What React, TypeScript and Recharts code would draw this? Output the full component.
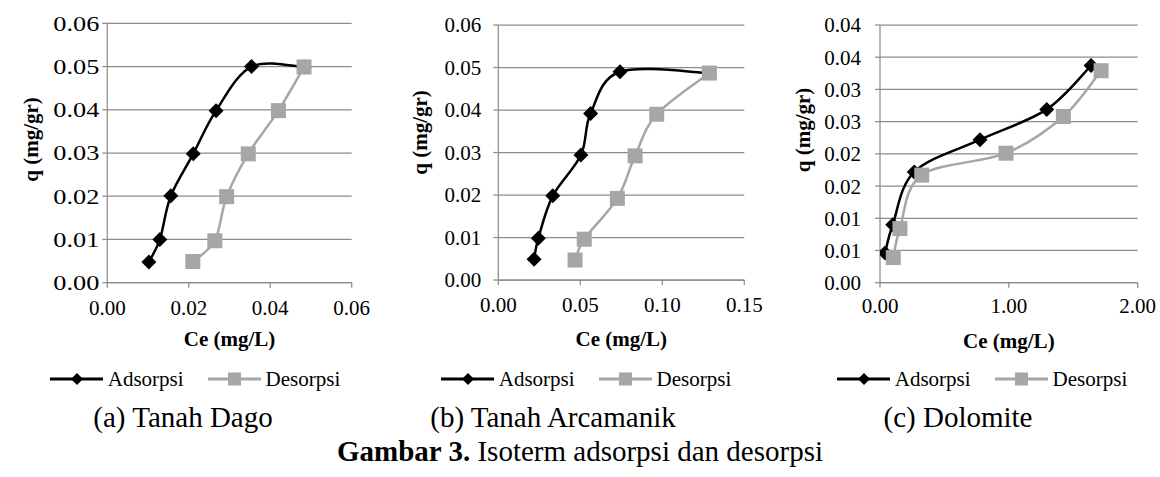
import { LineChart, Line, XAxis, YAxis, CartesianGrid, Legend, Label } from "recharts";

const FONT = '"Liberation Serif", "Times New Roman", serif';
const BLACK = "#000000";
const GRAY = "#a6a6a6";
const GRID = "#8c8c8c";

// (a) Tanah Dago
const dagoAdsCe = [0.0102, 0.0129, 0.0156, 0.0211, 0.0267, 0.0354, 0.0483];
const dagoAdsQ = [0.0048, 0.01, 0.0201, 0.0298, 0.0398, 0.05, 0.0499];
const dagoDesCe = [0.021, 0.0264, 0.0293, 0.0346, 0.042, 0.0483];
const dagoDesQ = [0.0049, 0.0097, 0.0199, 0.0298, 0.0398, 0.0499];

// (b) Tanah Arcamanik
const arcaAdsCe = [0.0218, 0.0244, 0.0332, 0.0504, 0.0563, 0.0742, 0.1287];
const arcaAdsQ = [0.0049, 0.0098, 0.0198, 0.0294, 0.0392, 0.049, 0.0487];
const arcaDesCe = [0.0468, 0.0524, 0.0726, 0.0834, 0.0966, 0.1287];
const arcaDesQ = [0.0047, 0.0096, 0.0192, 0.0292, 0.039, 0.0487];

// (c) Dolomite
const dolAdsCe = [0.039, 0.099, 0.266, 0.776, 1.294, 1.638];
const dolAdsQ = [0.0046, 0.009, 0.0172, 0.0222, 0.0269, 0.0337];
const dolDesCe = [0.103, 0.155, 0.324, 0.978, 1.423, 1.716];
const dolDesQ = [0.0039, 0.0084, 0.0167, 0.0201, 0.0258, 0.0329];

const xTicksA = [0, 0.02, 0.04, 0.06];
const xTicksB = [0, 0.05, 0.1, 0.15];
const xTicksC = [0, 1, 2];
const yTicksAB = [0, 0.01, 0.02, 0.03, 0.04, 0.05, 0.06];
const yTicksC = [0, 0.005, 0.01, 0.015, 0.02, 0.025, 0.03, 0.035, 0.04];
const yLabelsC = ["0.00", "0.01", "0.01", "0.02", "0.02", "0.03", "0.03", "0.04", "0.04"];

const captions = ["(a) Tanah Dago", "(b) Tanah Arcamanik", "(c) Dolomite"];

const zip = (ce: number[], q: number[]) => ce.map((c, i) => ({ ce: c, q: q[i] }));

// Excel-like smoothed line (Catmull-Rom as bezier)
const excelSmooth: any = (context: any) => {
  let pts: number[][] = [];
  return {
    areaStart() {},
    areaEnd() {},
    lineStart() {
      pts = [];
    },
    point(x: number, y: number) {
      pts.push([+x, +y]);
    },
    lineEnd() {
      const n = pts.length;
      if (!n) return;
      context.moveTo(pts[0][0], pts[0][1]);
      for (let i = 0; i < n - 1; i++) {
        const p0 = pts[Math.max(i - 1, 0)];
        const p1 = pts[i];
        const p2 = pts[i + 1];
        const p3 = pts[Math.min(i + 2, n - 1)];
        context.bezierCurveTo(
          p1[0] + (p2[0] - p0[0]) / 6,
          p1[1] + (p2[1] - p0[1]) / 6,
          p2[0] - (p3[0] - p1[0]) / 6,
          p2[1] - (p3[1] - p1[1]) / 6,
          p2[0],
          p2[1]
        );
      }
    },
  };
};

const diamondDot = (p: any) => {
  const r = 7.5;
  return (
    <path
      key={`d${p.index}`}
      d={`M${p.cx},${p.cy - r}L${p.cx + r},${p.cy}L${p.cx},${p.cy + r}L${p.cx - r},${p.cy}Z`}
      fill={BLACK}
    />
  );
};

const squareDot = (p: any) => {
  const s = 15;
  return <rect key={`s${p.index}`} x={p.cx - s / 2} y={p.cy - s / 2} width={s} height={s} fill={GRAY} />;
};

function LegendRow() {
  const item = (name: string, color: string, marker: "diamond" | "square") => (
    <div style={{ display: "flex", alignItems: "center" }}>
      <svg width={53} height={16}>
        <line x1={0} y1={8} x2={53} y2={8} stroke={color} strokeWidth={3} />
        {marker === "diamond" ? (
          <path d="M27,2L33,8L27,14L21,8Z" fill={color} />
        ) : (
          <rect x={20} y={1.5} width={13} height={13} fill={color} />
        )}
      </svg>
      <span style={{ marginLeft: 5 }}>{name}</span>
    </div>
  );
  return (
    <div
      style={{
        display: "flex",
        justifyContent: "center",
        alignItems: "center",
        gap: 24,
        height: 26,
        lineHeight: "26px",
        fontFamily: FONT,
        fontSize: 21,
        color: "#000",
      }}
    >
      {item("Adsorpsi", BLACK, "diamond")}
      {item("Desorpsi", GRAY, "square")}
    </div>
  );
}

type Panel = {
  left: number;
  plotLeft: number;
  plotRight: number;
  plotTop: number;
  plotBottom: number;
  ads: { ce: number; q: number }[];
  des: { ce: number; q: number }[];
  xTicks: number[];
  yTicks: number[];
  yFmt: (v: number, i: number) => string;
  yLabelWidth?: number;
  yTickMargin: number;
  xTickMargin: number;
  yTitleX: number;
  yTitleY: number;
  xTitleDy: number;
  legendCenter: number;
};

const W = 390;
const H = 400;
const XAXIS_H = 80;

function IsothermPanel({ p }: { p: Panel }) {
  const xMax = p.xTicks[p.xTicks.length - 1];
  const yMax = p.yTicks[p.yTicks.length - 1];
  const yTick = (t: any) => (
    <text
      x={t.x}
      y={t.y}
      dy="0.355em"
      textAnchor="end"
      fontFamily={FONT}
      fontSize={21}
      fill="#000"
      textLength={p.yLabelWidth}
      lengthAdjust={p.yLabelWidth ? "spacingAndGlyphs" : undefined}
    >
      {p.yFmt(t.payload.value, t.index)}
    </text>
  );
  return (
    <div style={{ position: "absolute", left: p.left, top: 0, width: W, height: H }}>
      <LineChart
        width={W}
        height={H}
        margin={{ top: p.plotTop, right: W - p.plotRight, left: 0, bottom: H - p.plotBottom - XAXIS_H }}
      >
        <CartesianGrid vertical={false} stroke={GRID} strokeWidth={1.25} />
        <XAxis
          type="number"
          dataKey="ce"
          domain={[0, xMax]}
          ticks={p.xTicks}
          allowDataOverflow
          tickFormatter={(v: number) => v.toFixed(2)}
          stroke={GRID}
          strokeWidth={1.25}
          tickSize={5}
          tickMargin={p.xTickMargin}
          height={XAXIS_H}
          tick={{ fill: "#000", fontSize: 21, fontFamily: FONT }}
        >
          <Label
            content={() => (
              <text
                x={(p.plotLeft + p.plotRight) / 2}
                y={p.plotBottom + p.xTitleDy}
                textAnchor="middle"
                fontFamily={FONT}
                fontWeight="bold"
                fontSize={21}
                fill="#000"
              >
                Ce (mg/L)
              </text>
            )}
          />
        </XAxis>
        <YAxis
          type="number"
          domain={[0, yMax]}
          ticks={p.yTicks}
          allowDataOverflow
          stroke={GRID}
          strokeWidth={1.25}
          tickSize={5}
          tickMargin={p.yTickMargin}
          width={p.plotLeft}
          tick={yTick}
        >
          <Label
            content={() => (
              <text
                x={p.yTitleX}
                y={p.yTitleY}
                transform={`rotate(-90 ${p.yTitleX} ${p.yTitleY})`}
                textAnchor="middle"
                fontFamily={FONT}
                fontWeight="bold"
                fontSize={21}
                fill="#000"
              >
                q (mg/gr)
              </text>
            )}
          />
        </YAxis>
        <Legend
          verticalAlign="middle"
          align="center"
          layout="horizontal"
          wrapperStyle={{ top: 366, left: p.legendCenter - 170, width: 340 }}
          content={() => <LegendRow />}
        />
        <Line
          name="Adsorpsi"
          data={p.ads}
          dataKey="q"
          type={excelSmooth}
          stroke={BLACK}
          strokeWidth={2.5}
          dot={diamondDot}
          activeDot={false}
          isAnimationActive={false}
        />
        <Line
          name="Desorpsi"
          data={p.des}
          dataKey="q"
          type={excelSmooth}
          stroke={GRAY}
          strokeWidth={2.5}
          dot={squareDot}
          activeDot={false}
          isAnimationActive={false}
        />
      </LineChart>
    </div>
  );
}

const fmt2 = (v: number) => v.toFixed(2);

const panels: Panel[] = [
  {
    left: 0,
    plotLeft: 107.3,
    plotRight: 351.7,
    plotTop: 23.3,
    plotBottom: 282.7,
    ads: zip(dagoAdsCe, dagoAdsQ),
    des: zip(dagoDesCe, dagoDesQ),
    xTicks: xTicksA,
    yTicks: yTicksAB,
    yFmt: fmt2,
    yLabelWidth: 46,
    yTickMargin: 3,
    xTickMargin: 12,
    yTitleX: 38,
    yTitleY: 139.5,
    xTitleDy: 63,
    legendCenter: 195,
  },
  {
    left: 385,
    plotLeft: 113.3,
    plotRight: 359.3,
    plotTop: 25,
    plotBottom: 280,
    ads: zip(arcaAdsCe, arcaAdsQ),
    des: zip(arcaDesCe, arcaDesQ),
    xTicks: xTicksB,
    yTicks: yTicksAB,
    yFmt: fmt2,
    yTickMargin: 12,
    xTickMargin: 12,
    yTitleX: 42,
    yTitleY: 132.5,
    xTitleDy: 66,
    legendCenter: 201,
  },
  {
    left: 770,
    plotLeft: 110,
    plotRight: 367.7,
    plotTop: 25,
    plotBottom: 282.7,
    ads: zip(dolAdsCe, dolAdsQ),
    des: zip(dolDesCe, dolDesQ),
    xTicks: xTicksC,
    yTicks: yTicksC,
    yFmt: (_v: number, i: number) => yLabelsC[i],
    yTickMargin: 14,
    xTickMargin: 10,
    yTitleX: 40,
    yTitleY: 130,
    xTitleDy: 65,
    legendCenter: 212,
  },
];

const captionX = [183, 553, 958];

export default function App() {
  return (
    <div
      style={{
        position: "absolute",
        left: 0,
        top: 0,
        width: 1160,
        height: 477,
        background: "#fff",
        overflow: "hidden",
        fontFamily: FONT,
      }}
    >
      {panels.map((p, i) => (
        <IsothermPanel key={i} p={p} />
      ))}
      <svg
        width={1160}
        height={477}
        style={{ position: "absolute", left: 0, top: 0, pointerEvents: "none" }}
      >
        {captions.map((c, i) => (
          <text key={c} x={captionX[i]} y={427} textAnchor="middle" fontFamily={FONT} fontSize={29} fill="#000">
            {c}
          </text>
        ))}
        <text x={580} y={461} textAnchor="middle" fontFamily={FONT} fontSize={29} fill="#000">
          <tspan fontWeight="bold">Gambar 3.</tspan>
          {" Isoterm adsorpsi dan desorpsi"}
        </text>
      </svg>
    </div>
  );
}
